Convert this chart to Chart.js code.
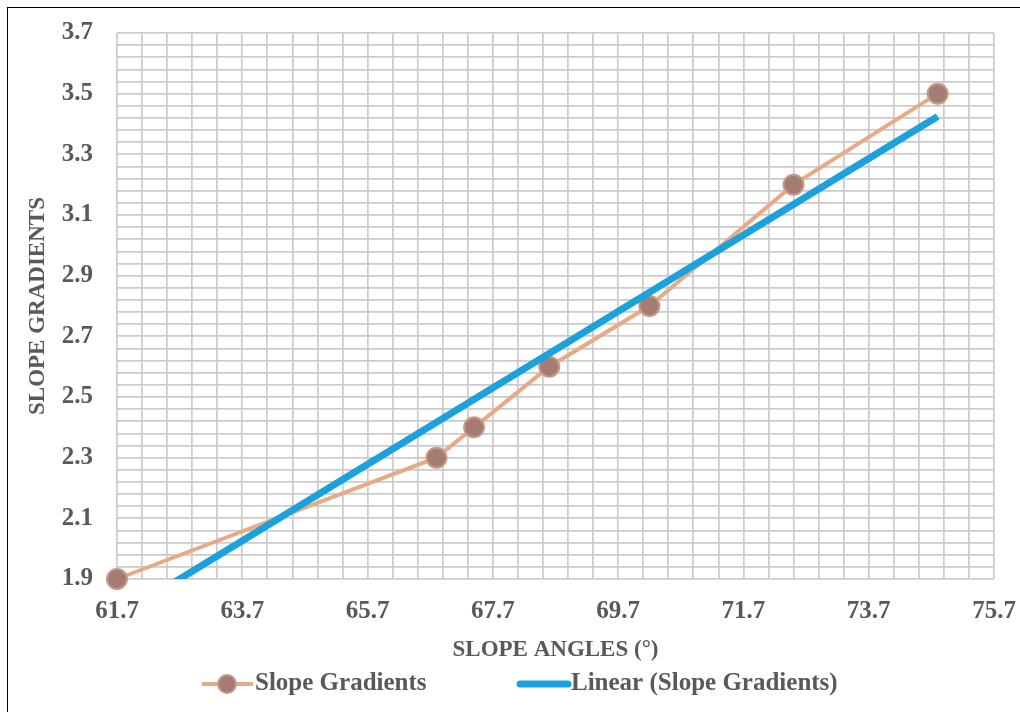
<!DOCTYPE html>
<html>
<head>
<meta charset="utf-8">
<script src="https://cdn.jsdelivr.net/npm/chart.js@4/dist/chart.umd.min.js"></script>
<style>
  body { margin: 0; background: #fff; }
  #wrap { position: relative; width: 1020px; height: 712px; }
  #frame { position: absolute; left: 7px; top: 7px; width: 1030px; height: 720px;
           border-left: 1.5px solid #000; border-top: 1.5px solid #000; pointer-events: none; }
</style>
</head>
<body>
<div id="wrap">
  <canvas id="ChartDetail1"></canvas>
  <div id="frame"></div>
</div>
<script>
// values
var slopeAngles = [61.7, 66.8, 67.4, 68.6, 70.2, 72.5, 74.8];
var slopeGradients = [1.9, 2.3, 2.4, 2.6, 2.8, 3.2, 3.5];
// end points of the excel trend line
var trendAngles = [61.7, 74.8];
var trendGradients = [1.774, 3.425];

var xTicks = [61.7, 63.7, 65.7, 67.7, 69.7, 71.7, 73.7, 75.7];
var yTicks = [1.9, 2.1, 2.3, 2.5, 2.7, 2.9, 3.1, 3.3, 3.5, 3.7];
var minorSteps = 5;

var textColor = '#595959';
var fontFamily = '"Liberation Serif", "Times New Roman", serif';

function pairs(xs, ys) {
    return xs.map(function(x, i) { return {x: x, y: ys[i]}; });
}

// major ticks + minor ones in between, so the grid is dense like excel
function fillTicks(majors) {
    var out = [];
    for (var i = 0; i < majors.length - 1; i++) {
        var step = (majors[i + 1] - majors[i]) / minorSteps;
        for (var j = 0; j < minorSteps; j++) {
            out.push({value: majors[i] + step * j});
        }
    }
    out.push({value: majors[majors.length - 1]});
    return out;
}

function tickLabel(majors) {
    return function(value, index) {
        if (index % minorSteps !== 0) return '';
        return majors[index / minorSteps].toFixed(1);
    };
}

// legend drawn by hand (excel style: line + marker, then text)
var legendPlugin = {
    id: 'excelLegend',
    afterDraw: function(chart) {
        var ctx = chart.ctx;
        var ds = chart.data.datasets;
        var y = 684;
        ctx.save();
        ctx.font = 'bold 25px ' + fontFamily;
        ctx.textBaseline = 'middle';
        ctx.fillStyle = textColor;

        // series entry
        var x = 202;
        ctx.strokeStyle = ds[0].borderColor;
        ctx.lineWidth = ds[0].borderWidth;
        ctx.beginPath(); ctx.moveTo(x, y); ctx.lineTo(x + 51, y); ctx.stroke();
        ctx.beginPath(); ctx.arc(x + 25, y, 9, 0, Math.PI * 2);
        ctx.fillStyle = ds[0].pointBackgroundColor; ctx.fill();
        ctx.strokeStyle = ds[0].pointBorderColor; ctx.lineWidth = 2; ctx.stroke();
        ctx.fillStyle = textColor;
        ctx.fillText(ds[0].label, x + 53, y);

        // trend entry
        x = 517;
        ctx.strokeStyle = ds[1].borderColor;
        ctx.lineWidth = ds[1].borderWidth;
        ctx.lineCap = 'round';
        ctx.beginPath(); ctx.moveTo(x + 3, y); ctx.lineTo(x + 51, y); ctx.stroke();
        ctx.fillText(ds[1].label, x + 54, y);
        ctx.restore();
    }
};

var config1 = {
    type: 'scatter',
    data: {
        datasets: [{
            label: 'Slope Gradients',
            data: pairs(slopeAngles, slopeGradients),
            showLine: true,
            borderColor: '#e6ab85',
            borderWidth: 4,
            pointRadius: 10,
            pointHoverRadius: 10,
            pointBackgroundColor: '#a57c74',
            pointBorderColor: '#c79a85',
            pointBorderWidth: 2,
            clip: false,
            order: 2
        }, {
            label: 'Linear (Slope Gradients)',
            data: pairs(trendAngles, trendGradients),
            showLine: true,
            borderColor: '#1ba1dc',
            borderWidth: 7,
            pointRadius: 0,
            clip: 0,
            order: 1
        }]
    },
    options: {
        responsive: true,
        maintainAspectRatio: false,
        animation: false,
        layout: {
            padding: {top: 33, right: 26, bottom: 0, left: 0}
        },
        plugins: {
            legend: {display: false},
            tooltip: {enabled: false}
        },
        scales: {
            x: {
                type: 'linear',
                min: xTicks[0],
                max: xTicks[xTicks.length - 1],
                afterBuildTicks: function(scale) { scale.ticks = fillTicks(xTicks); },
                afterFit: function(scale) {
                    scale.height = 133;
                    scale.paddingLeft = 0;
                    scale.paddingRight = 0;
                },
                grid: {color: '#cbcbcb', lineWidth: 1.7, drawTicks: false},
                border: {display: false},
                ticks: {
                    autoSkip: false,
                    maxRotation: 0,
                    padding: 18,
                    color: textColor,
                    font: {family: fontFamily, size: 25, weight: 'bold'},
                    callback: tickLabel(xTicks)
                },
                title: {
                    display: true,
                    text: 'SLOPE ANGLES (°)',
                    color: textColor,
                    font: {family: fontFamily, size: 23, weight: 'bold'},
                    padding: {top: 4, bottom: 48}
                }
            },
            y: {
                type: 'linear',
                min: yTicks[0],
                max: yTicks[yTicks.length - 1],
                afterBuildTicks: function(scale) { scale.ticks = fillTicks(yTicks); },
                afterFit: function(scale) {
                    scale.width = 117;
                    scale.paddingTop = 0;
                    scale.paddingBottom = 0;
                },
                grid: {color: '#cbcbcb', lineWidth: 1.7, drawTicks: false},
                border: {display: false},
                ticks: {
                    autoSkip: false,
                    padding: 24,
                    color: textColor,
                    font: {family: fontFamily, size: 25, weight: 'bold'},
                    callback: tickLabel(yTicks)
                },
                title: {
                    display: true,
                    text: 'SLOPE GRADIENTS',
                    color: textColor,
                    font: {family: fontFamily, size: 23, weight: 'bold'},
                    padding: {top: 24, bottom: 0}
                }
            }
        }
    },
    plugins: [legendPlugin]
};

window.onload = function() {
    var ctx1 = document.getElementById('ChartDetail1').getContext('2d');
    window.myLine = new Chart(ctx1, config1);
};
</script>
</body>
</html>
